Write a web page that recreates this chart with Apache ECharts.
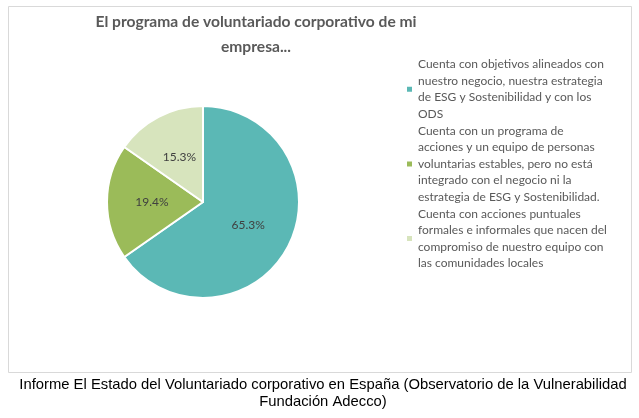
<!DOCTYPE html>
<html><head><meta charset="utf-8">
<script src="https://cdn.jsdelivr.net/npm/echarts@6/dist/echarts.min.js"></script>
<style>html,body{margin:0;padding:0;background:#fff}#c{width:639px;height:418px}</style>
</head><body><div id="c"></div>
<script>
const categories = [
  "Cuenta con objetivos alineados con\nnuestro negocio, nuestra estrategia\nde ESG y Sostenibilidad y con los\nODS",
  "Cuenta con un programa de\nacciones y un equipo de personas\nvoluntarias estables, pero no está\nintegrado con el negocio ni la\nestrategia de ESG y Sostenibilidad.",
  "Cuenta con acciones puntuales\nformales e informales que nacen del\ncompromiso de nuestro equipo con\nlas comunidades locales"
];
const values = [65.3, 19.4, 15.3];
const colors = ["#5BB8B5", "#9BBB59", "#D7E4BD"];
const titleText = "El programa de voluntariado corporativo de mi\nempresa...";
const captionText = "Informe El Estado del Voluntariado corporativo en España (Observatorio de la Vulnerabilidad\nFundación Adecco)";

const chart = echarts.init(document.getElementById('c'), null, {renderer: 'canvas'});
chart.setOption({
  animation: false,
  color: colors,
  graphic: [{
    type: 'rect', left: 8, top: 6, shape: {width: 623, height: 366},
    style: {fill: '#fff', stroke: '#D9D9D9', lineWidth: 1}, z: -10
  }, {
    type: 'text', x: 256, y: 9,
    style: {text: titleText, align: 'center', verticalAlign: 'top',
      font: 'bold 15.6px Lato', fill: '#595959', lineHeight: 25}
  }, {
    type: 'text', x: 323, y: 376,
    style: {text: captionText, align: 'center', verticalAlign: 'top',
      font: '14.8px "Liberation Sans"', fill: '#000', lineHeight: 17}
  }],
  legend: {
    orient: 'vertical', left: 400, top: 51,
    itemWidth: 7, itemHeight: 7, itemGap: 0, icon: 'rect',
    textStyle: {fontFamily: 'Lato', fontSize: 12, color: '#595959', lineHeight: 16.6},
    data: categories
  },
  series: [{
    type: 'pie', center: [203, 202], radius: 96, startAngle: 90, clockwise: true,
    itemStyle: {borderColor: '#fff', borderWidth: 2},
    label: {show: true, position: 'inside', formatter: p => p.value.toFixed(1) + '%',
      fontFamily: 'Lato', fontSize: 12, color: '#404040'},
    labelLine: {show: false},
    data: categories.map((n, i) => ({name: n, value: values[i]}))
  }]
});
</script></body></html>
